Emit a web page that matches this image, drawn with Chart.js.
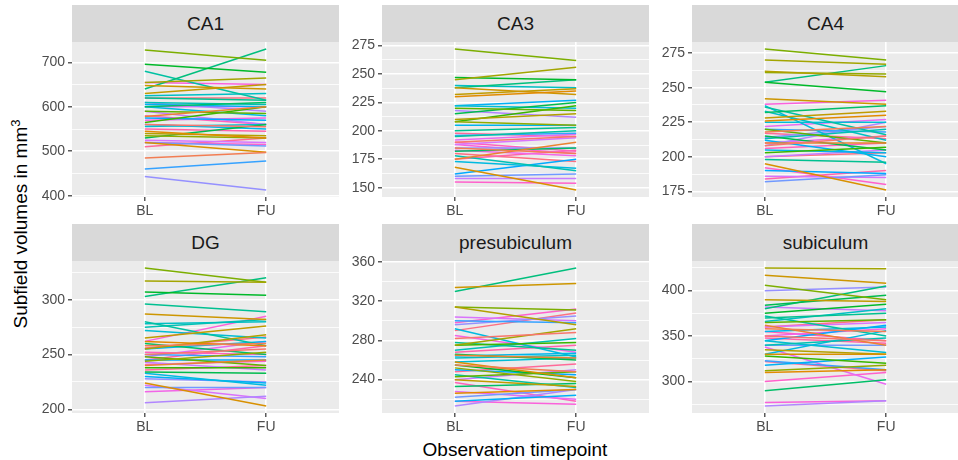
<!doctype html>
<html lang="en">
<head>
<meta charset="UTF-8">
<title>Subfield volumes</title>
<script src="https://cdn.jsdelivr.net/npm/chart.js"></script>
<style>
  body { margin: 0; background: #fff; width: 958px; height: 460px; position: relative; overflow: hidden;
         font-family: "Liberation Sans", Arial, sans-serif; }
  .strip { position: absolute; background: #D9D9D9; color: #1A1A1A; font-size: 19px;
           display: flex; align-items: center; justify-content: center; }
  canvas { position: absolute; }
  #ytitle { position: absolute; left: 20px; top: 224px; transform: translate(-50%, -50%) rotate(-90deg);
            white-space: nowrap; font-size: 19px; color: #000; }
  #ytitle sup { font-size: 13px; }
  #xtitle { position: absolute; left: 515px; top: 450px; transform: translate(-50%, -50%);
            white-space: nowrap; font-size: 19px; color: #000; }
</style>
</head>
<body>
<div id="ytitle">Subfield volumes in mm<sup>3</sup></div>
<div id="xtitle">Observation timepoint</div>

<script>
// timepoints on the x axis
const timepoints = ['BL', 'FU'];

// one entry per subject (40 subjects), baseline and follow-up volumes
const ca1BL = [560, 485, 578, 545, 520, 648, 630, 540, 655, 535, 728, 590, 565, 696, 530, 600, 640, 620, 680, 610,
               625, 556, 600, 560, 605, 575, 460, 520, 443, 610, 590, 525, 600, 570, 655, 520, 580, 550, 510, 620];
const ca1FU = [555, 497, 600, 530, 498, 640, 650, 535, 665, 530, 705, 585, 600, 678, 560, 610, 730, 615, 615, 605,
               630, 560, 580, 550, 600, 570, 478, 512, 413, 590, 560, 520, 600, 575, 650, 515, 560, 545, 530, 620];

const ca3BL = [190, 185, 175, 230, 168, 238, 232, 210, 245, 208, 272, 220, 208, 247, 215, 182, 238, 200, 195, 178,
               240, 222, 173, 205, 222, 162, 196, 160, 185, 218, 158, 188, 192, 183, 188, 155, 190, 175, 198, 180];
const ca3FU = [195, 180, 190, 235, 148, 232, 237, 215, 256, 205, 262, 218, 222, 245, 225, 185, 245, 203, 200, 165,
               238, 220, 167, 205, 227, 175, 198, 162, 185, 212, 158, 194, 197, 178, 180, 154, 182, 183, 195, 173];

const ca4BL = [208, 218, 210, 226, 195, 242, 228, 262, 270, 261, 278, 220, 203, 254, 215, 232, 254, 198, 236, 213,
               233, 225, 237, 205, 212, 190, 220, 182, 214, 208, 200, 186, 222, 210, 238, 192, 206, 184, 217, 200];
const ca4FU = [215, 222, 210, 230, 176, 238, 233, 258, 267, 260, 270, 210, 207, 247, 205, 237, 266, 196, 216, 220,
               212, 225, 195, 203, 200, 188, 218, 187, 222, 225, 205, 185, 227, 215, 241, 180, 210, 190, 213, 203];

const dgBL = [250, 258, 240, 262, 224, 287, 265, 255, 317, 244, 329, 248, 238, 307, 234, 260, 303, 296, 280, 275,
              278, 272, 233, 255, 230, 245, 250, 220, 228, 206, 243, 222, 248, 216, 262, 241, 252, 245, 236, 256];
const dgFU = [255, 260, 245, 258, 203, 282, 276, 268, 316, 252, 316, 240, 238, 304, 233, 250, 320, 289, 258, 282,
              280, 265, 222, 262, 224, 245, 248, 220, 225, 212, 236, 210, 262, 220, 285, 244, 250, 258, 240, 266];

const preBL = [282, 255, 265, 226, 258, 334, 240, 314, 275, 252, 314, 243, 275, 255, 266, 233, 330, 278, 245, 270,
               262, 258, 292, 264, 218, 250, 300, 222, 296, 213, 240, 304, 228, 285, 218, 298, 237, 268, 248, 290];
const preFU = [288, 248, 262, 230, 242, 338, 233, 296, 292, 238, 311, 248, 278, 242, 260, 236, 354, 270, 232, 282,
               265, 262, 263, 267, 224, 245, 298, 230, 305, 230, 250, 300, 220, 268, 215, 312, 218, 275, 256, 308];

const subBL = [350, 358, 362, 310, 330, 417, 390, 335, 425, 312, 406, 365, 328, 375, 384, 290, 380, 370, 372, 340,
               366, 345, 330, 355, 318, 345, 323, 340, 400, 273, 382, 360, 338, 350, 277, 300, 355, 348, 322, 360];
const subFU = [345, 355, 340, 313, 330, 408, 388, 330, 424, 318, 390, 368, 320, 385, 395, 302, 405, 375, 350, 348,
               380, 332, 356, 360, 327, 362, 313, 340, 404, 279, 378, 365, 297, 358, 279, 310, 345, 342, 312, 368];

// labelled y ticks per panel
const ca1Ticks = [400, 500, 600, 700];
const ca3Ticks = [150, 175, 200, 225, 250, 275];
const ca4Ticks = [175, 200, 225, 250, 275];
const dgTicks = [200, 250, 300];
const preTicks = [240, 280, 320, 360];
const subTicks = [300, 350, 400];

const panels = [
  { name: 'CA1', bl: ca1BL, fu: ca1FU, ticks: ca1Ticks, col: 0, row: 0 },
  { name: 'CA3', bl: ca3BL, fu: ca3FU, ticks: ca3Ticks, col: 1, row: 0 },
  { name: 'CA4', bl: ca4BL, fu: ca4FU, ticks: ca4Ticks, col: 2, row: 0 },
  { name: 'DG', bl: dgBL, fu: dgFU, ticks: dgTicks, col: 0, row: 1 },
  { name: 'presubiculum', bl: preBL, fu: preFU, ticks: preTicks, col: 1, row: 1 },
  { name: 'subiculum', bl: subBL, fu: subFU, ticks: subTicks, col: 2, row: 1 }
];

// layout
const colLeft = [72, 382, 692];
const panelW = 267;
const stripTop = [5, 224];
const stripH = 37;
const plotTop = [42, 261];
const plotH = [155, 152];
const axisW = 50, padTop = 12, axisH = 26;
const fontFamily = '"Liberation Sans", Arial, sans-serif';

// ggplot default hue palette (hcl with c = 100, l = 65)
function hueColor(h) {
  const L = 65, C = 100;
  const hr = h * Math.PI / 180;
  const u = C * Math.cos(hr), v = C * Math.sin(hr);
  const Xn = 95.047, Yn = 100, Zn = 108.883;
  const den = Xn + 15 * Yn + 3 * Zn;
  const un = 4 * Xn / den, vn = 9 * Yn / den;
  const Y = Yn * Math.pow((L + 16) / 116, 3);
  const up = u / (13 * L) + un, vp = v / (13 * L) + vn;
  const X = Y * 9 * up / (4 * vp);
  const Z = Y * (12 - 3 * up - 20 * vp) / (4 * vp);
  const x = X / 100, y = Y / 100, z = Z / 100;
  const lin = [3.2406 * x - 1.5372 * y - 0.4986 * z,
               -0.9689 * x + 1.8758 * y + 0.0415 * z,
               0.0557 * x - 0.2040 * y + 1.0570 * z];
  const rgb = lin.map(c => {
    c = c <= 0.0031308 ? 12.92 * c : 1.055 * Math.pow(c, 1 / 2.4) - 0.055;
    return Math.round(255 * Math.min(1, Math.max(0, c)));
  });
  return 'rgb(' + rgb.join(',') + ')';
}

const nSubj = ca1BL.length;
const colors = [];
for (let i = 0; i < nSubj; i++) colors.push(hueColor(15 + 360 * i / nSubj));

const panelBg = {
  id: 'panelBg',
  beforeDraw(chart) {
    const a = chart.chartArea, c = chart.ctx;
    c.save();
    c.fillStyle = '#EBEBEB';
    c.fillRect(a.left, a.top, a.right - a.left, a.bottom - a.top);
    c.restore();
  }
};

panels.forEach(p => {
  const strip = document.createElement('div');
  strip.className = 'strip';
  strip.textContent = p.name;
  strip.style.left = colLeft[p.col] + 'px';
  strip.style.top = stripTop[p.row] + 'px';
  strip.style.width = panelW + 'px';
  strip.style.height = stripH + 'px';
  document.body.appendChild(strip);

  const canvas = document.createElement('canvas');
  canvas.width = panelW + axisW;
  canvas.height = plotH[p.row] + padTop + axisH;
  canvas.style.left = (colLeft[p.col] - axisW) + 'px';
  canvas.style.top = (plotTop[p.row] - padTop) + 'px';
  document.body.appendChild(canvas);

  const all = p.bl.concat(p.fu);
  const lo = Math.min(...all), hi = Math.max(...all);
  const yMin = lo - 0.05 * (hi - lo), yMax = hi + 0.05 * (hi - lo);
  const half = (p.ticks[1] - p.ticks[0]) / 2;
  const gridVals = [];
  for (let v = p.ticks[0] - 4 * half; v <= yMax; v += half) {
    if (v >= yMin) gridVals.push(v);
  }
  const isMajor = v => p.ticks.includes(v);

  const datasets = p.bl.map((b, i) => ({
    data: [{ x: 1, y: b }, { x: 2, y: p.fu[i] }],
    borderColor: colors[i],
    borderWidth: 1.5,
    pointRadius: 0,
    tension: 0,
    fill: false
  }));

  new Chart(canvas.getContext('2d'), {
    type: 'line',
    data: { datasets: datasets },
    options: {
      responsive: false,
      animation: false,
      layout: { padding: { top: padTop, left: 0, right: 0, bottom: 0 } },
      plugins: { legend: { display: false }, tooltip: { enabled: false } },
      scales: {
        x: {
          type: 'linear',
          min: 0.4,
          max: 2.6,
          afterBuildTicks: s => { s.ticks = [{ value: 1 }, { value: 2 }]; },
          afterFit: s => { s.height = axisH; },
          ticks: {
            callback: v => timepoints[v - 1],
            color: '#4D4D4D',
            font: { size: 14, family: fontFamily },
            padding: 2,
            autoSkip: false,
            maxRotation: 0
          },
          grid: { color: '#FFFFFF', lineWidth: 1.6, tickColor: '#333333', tickLength: 4, tickWidth: 1.2 },
          border: { display: false }
        },
        y: {
          type: 'linear',
          min: yMin,
          max: yMax,
          afterBuildTicks: s => { s.ticks = gridVals.map(v => ({ value: v })); },
          afterFit: s => { s.width = axisW; },
          ticks: {
            callback: v => isMajor(v) ? String(v) : '',
            color: '#4D4D4D',
            font: { size: 14, family: fontFamily },
            padding: 3,
            autoSkip: false
          },
          grid: {
            color: '#FFFFFF',
            lineWidth: c => isMajor(c.tick.value) ? 1.6 : 0.8,
            tickColor: c => isMajor(c.tick.value) ? '#333333' : 'rgba(0,0,0,0)',
            tickLength: 4,
            tickWidth: 1.2
          },
          border: { display: false }
        }
      }
    },
    plugins: [panelBg]
  });
});
</script>
</body>
</html>
